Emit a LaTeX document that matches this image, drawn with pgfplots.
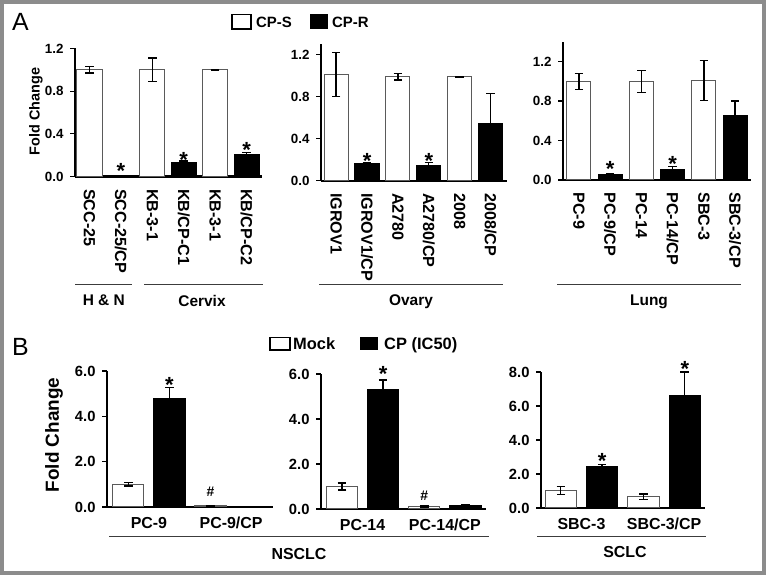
\documentclass[border=0pt]{standalone}
\usepackage{pgfplots}
\pgfplotsset{compat=1.18}
\usepackage{fontspec}
\setmainfont{Liberation Sans}
\newcommand\fs[1]{\fontsize{#1}{#1}\selectfont\bfseries}
\definecolor{frame}{RGB}{140,140,140}
\definecolor{barline}{RGB}{90,90,90}
\tikzset{
 star/.style={font=\fs{22}, anchor=base, yshift=-12.3bp, inner sep=0pt},
 hash/.style={font=\fs{14}, anchor=center, inner sep=0pt},
}
\pgfplotsset{
 panel/.style={scale only axis, anchor=south west, clip=false,
  axis x line*=bottom, axis y line*=left,
  axis line style={-, line width=2.2bp, black},
  ymin=0,
  xtick pos=bottom, ytick pos=left,
  tick align=outside, major tick length=5bp,
  xtick style={draw=none},
  ytick style={line width=1.3bp, black},
  yticklabel style={xshift=-3bp, /pgf/number format/fixed, /pgf/number format/fixed zerofill, /pgf/number format/precision=1, /pgf/number format/assume math mode=true},
 },
 apanel/.style={panel, xtick={0,...,5}, ytick={0,0.4,0.8,1.2},
   yticklabel style={font=\fs{13.4}}, xticklabel shift=4bp,
   xticklabel style={font=\fs{16.2}, rotate=-90, anchor=west}},
 bpanel/.style={panel, xtick={0.5,2.5}, yticklabel style={font=\fs{14.8}},
   xticklabel shift=1.5bp,
   xticklabel style={font=\fs{16}, anchor=north}},
 wbar/.style={ybar, bar shift=0pt, fill=white, draw=barline, line width=1bp,
   error bars/.cd, y dir=both, y explicit, error mark=-,
   error bar style={line width=1.3bp, black},
   error mark options={rotate=90, line width=1.3bp, black, mark size=4.3bp}},
 kbar/.style={ybar, bar shift=0pt, fill=black, draw=black, line width=1bp,
   error bars/.cd, y dir=plus, y explicit, error mark=-,
   error bar style={line width=1.3bp, black},
   error mark options={rotate=90, line width=1.3bp, black, mark size=4.3bp}},
}
\begin{document}
\begin{tikzpicture}
\useasboundingbox (0,0) rectangle (766bp,575bp);
\fill[white] (0,0) rectangle (766bp,575bp);
% ---------- Panel A ----------
\begin{axis}[apanel, at={(75bp,398.5bp)}, width=187bp, height=128bp, ymax=1.2,
  xmin=-0.46, xmax=5.49, bar width=0.8,
  xticklabels={SCC-25,SCC-25/CP,KB-3-1,KB/CP-C1,KB-3-1,KB/CP-C2}]
\addplot[wbar] coordinates {(0,1.0) +- (0,0.03) (2,1.0) +- (0,0.11) (4,1.0) +- (0,0.005)};
\addplot[kbar] coordinates {(1,0) +- (0,0) (3,0.133) +- (0,0.012) (5,0.21) +- (0,0.015)};
\node[star] at (axis cs:1,0.092) {*};
\node[star] at (axis cs:3,0.20) {*};
\node[star] at (axis cs:5,0.29) {*};
\end{axis}
\begin{axis}[apanel, at={(321bp,394.3bp)}, width=186bp, height=136.5bp, ymax=1.3,
  xmin=-0.49, xmax=5.53, bar width=0.78,
  xticklabels={IGROV1,IGROV1/CP,A2780,A2780/CP,2008,2008/CP}]
\addplot[wbar] coordinates {(0,1.01) +- (0,0.21) (2,0.99) +- (0,0.03) (4,0.99) +- (0,0.005)};
\addplot[kbar] coordinates {(1,0.16) +- (0,0.015) (3,0.14) +- (0,0.03) (5,0.54) +- (0,0.29)};
\node[star] at (axis cs:1,0.235) {*};
\node[star] at (axis cs:3,0.235) {*};
\end{axis}
\begin{axis}[apanel, at={(563bp,395bp)}, width=188bp, height=138bp, ymax=1.4,
  xmin=-0.51, xmax=5.51, bar width=0.77,
  xticklabels={PC-9,PC-9/CP,PC-14,PC-14/CP,SBC-3,SBC-3/CP}]
\addplot[wbar] coordinates {(0,1.0) +- (0,0.08) (2,1.0) +- (0,0.11) (4,1.01) +- (0,0.2)};
\addplot[kbar] coordinates {(1,0.06) +- (0,0.006) (3,0.11) +- (0,0.025) (5,0.65) +- (0,0.15)};
\node[star] at (axis cs:1,0.159) {*};
\node[star] at (axis cs:3,0.21) {*};
\end{axis}
% ---------- Panel B ----------
\begin{axis}[bpanel, at={(107bp,68bp)}, width=166bp, height=136bp, ymax=6, ytick={0,2,4,6},
  xmin=-0.52, xmax=3.52, bar width=0.76, xticklabels={PC-9,PC-9/CP}]
\addplot[wbar] coordinates {(0,1.0) +- (0,0.08) (2,0.05) +- (0,0.02)};
\addplot[kbar] coordinates {(1,4.8) +- (0,0.47) (3,0.02) +- (0,0.01)};
\node[star] at (axis cs:1,5.6) {*};
\node[hash] at (axis cs:2,0.675) {\#};
\end{axis}
\begin{axis}[bpanel, at={(321bp,66bp)}, width=165bp, height=135bp, ymax=6, ytick={0,2,4,6},
  xmin=-0.51, xmax=3.5, bar width=0.76, xticklabels={PC-14,PC-14/CP}]
\addplot[wbar] coordinates {(0,1.0) +- (0,0.15) (2,0.12) +- (0,0.03)};
\addplot[kbar] coordinates {(1,5.29) +- (0,0.44) (3,0.17) +- (0,0.03)};
\node[star] at (axis cs:1,6.2) {*};
\node[hash] at (axis cs:2,0.58) {\#};
\end{axis}
\begin{axis}[bpanel, at={(541bp,67bp)}, width=164bp, height=136bp, ymax=8, ytick={0,2,4,6,8},
  xmin=-0.48, xmax=3.49, bar width=0.76, xticklabels={SBC-3,SBC-3/CP}]
\addplot[wbar] coordinates {(0,1.02) +- (0,0.24) (2,0.66) +- (0,0.17)};
\addplot[kbar] coordinates {(1,2.42) +- (0,0.15) (3,6.6) +- (0,1.4)};
\node[star] at (axis cs:1,3.02) {*};
\node[star] at (axis cs:3,8.45) {*};
\end{axis}
% ---------- annotations ----------
\node[font=\fontsize{25}{25}\selectfont, anchor=base west, inner sep=0pt] at (12bp,544bp) {A};
\node[font=\fontsize{25}{25}\selectfont, anchor=base west, inner sep=0pt] at (12bp,219.5bp) {B};
\node[font=\fs{14.5}, rotate=90, inner sep=0pt] at (36bp,463.5bp) {Fold Change};
\node[font=\fs{19}, rotate=90, inner sep=0pt] at (54bp,140bp) {Fold Change};
% legend A
\draw[black, line width=1.1bp, fill=white] (232bp,546bp) rectangle (251bp,560.5bp);
\node[font=\fs{15}, anchor=base west, inner sep=0pt] at (256bp,547.6bp) {CP-S};
\fill[black] (309.5bp,546bp) rectangle (328bp,560.5bp);
\node[font=\fs{15}, anchor=base west, inner sep=0pt] at (332bp,547.6bp) {CP-R};
% legend B
\draw[black, line width=1.1bp, fill=white] (270bp,225bp) rectangle (290bp,237.7bp);
\node[font=\fs{16.5}, anchor=base west, inner sep=0pt] at (293bp,225.6bp) {Mock};
\fill[black] (360bp,225bp) rectangle (378.3bp,237.7bp);
\node[font=\fs{16.5}, anchor=base west, inner sep=0pt] at (384bp,225.6bp) {CP (IC50)};
% group lines
\begin{scope}[line width=1bp, draw={rgb,255:red,60;green,60;blue,60}]
\draw (75bp,290bp) -- (132bp,290bp);
\draw (144bp,290bp) -- (263bp,290bp);
\draw (319bp,290bp) -- (503bp,290bp);
\draw (557bp,290bp) -- (741bp,290bp);
\draw (109bp,38bp) -- (489bp,38bp);
\draw (537bp,38bp) -- (706bp,38bp);
\end{scope}
\node[font=\fs{15.5}, inner sep=0pt] at (103.8bp,274.5bp) {H \& N};
\node[font=\fs{15.5}, inner sep=0pt] at (202bp,274.5bp) {Cervix};
\node[font=\fs{15.5}, inner sep=0pt, anchor=base] at (411bp,269bp) {Ovary};
\node[font=\fs{15.5}, inner sep=0pt, anchor=base] at (649bp,269bp) {Lung};
\node[font=\fs{16}, inner sep=0pt] at (299bp,21bp) {NSCLC};
\node[font=\fs{16}, inner sep=0pt] at (625bp,23bp) {SCLC};
% frame
\draw[frame, line width=4bp] (2bp,2bp) rectangle (764bp,573bp);
\end{tikzpicture}
\end{document}
